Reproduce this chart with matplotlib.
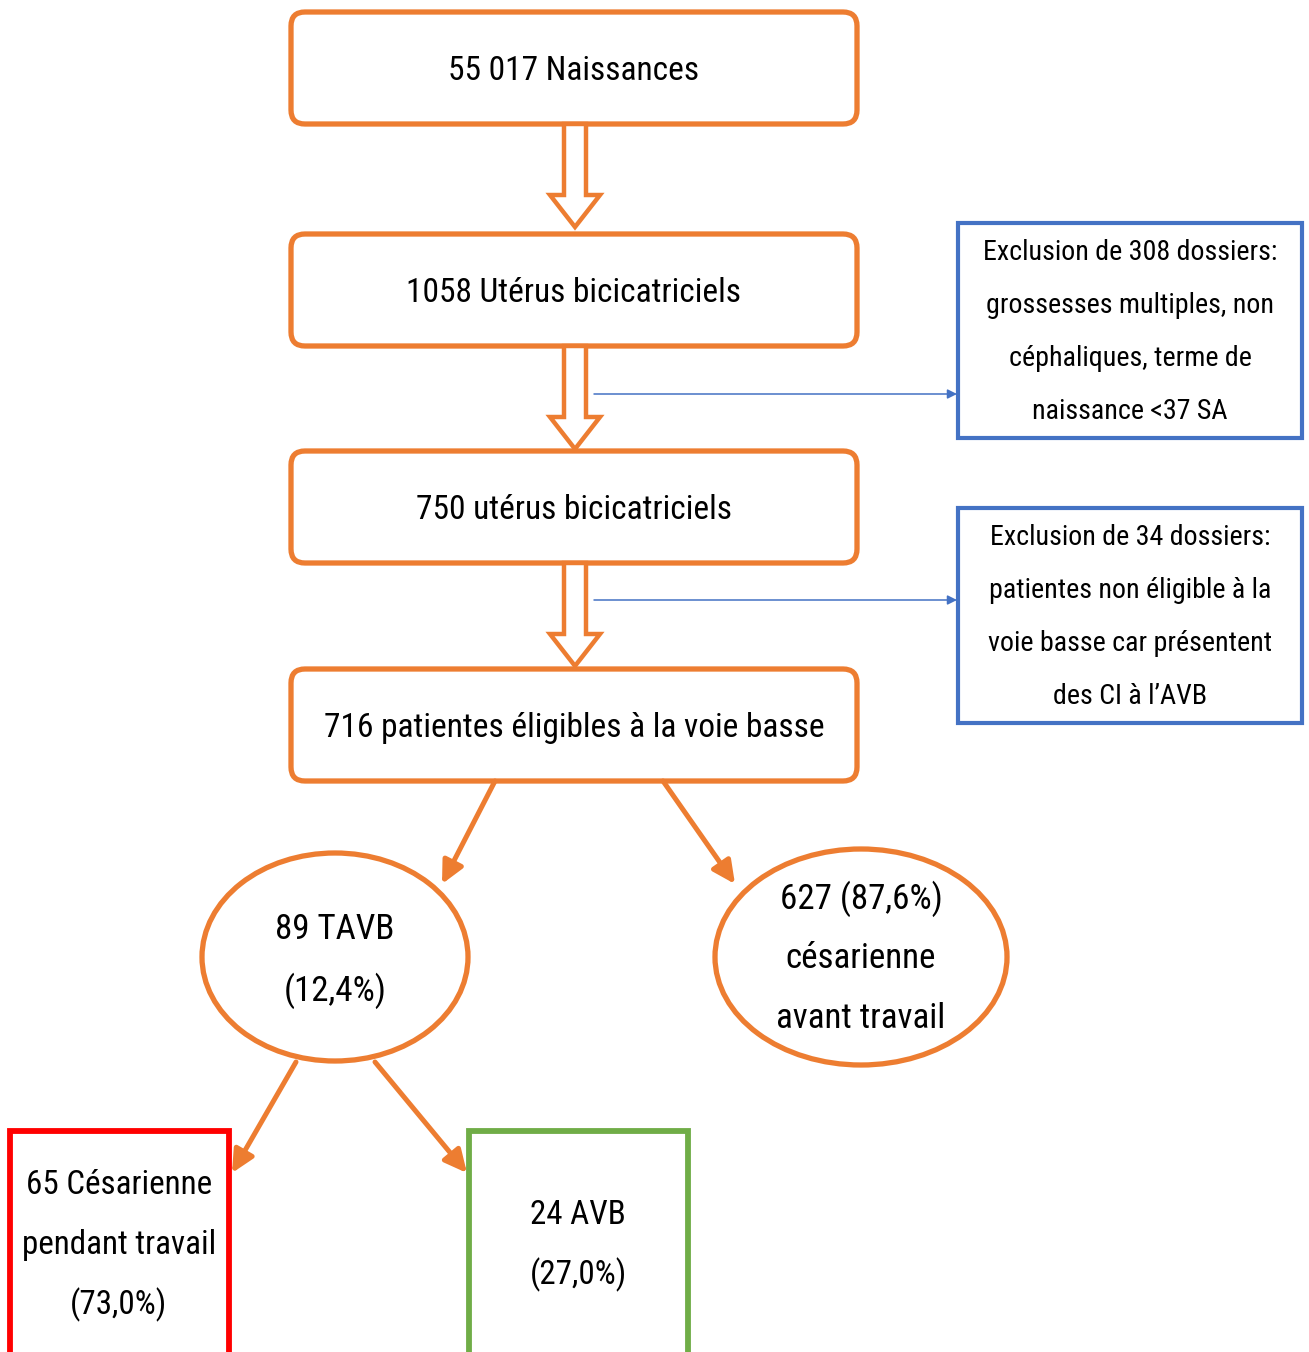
import matplotlib
matplotlib.use("Agg")
import matplotlib.pyplot as plt
from matplotlib import font_manager as fm
from matplotlib.patches import FancyBboxPatch, Rectangle, Ellipse, FancyArrow

ORANGE, BLUE, RED, GREEN = "#ED7D31", "#4472C4", "#FF0000", "#70AD47"

# flow content
main_labels = ["55 017 Naissances", "1058 Utérus bicicatriciels",
               "750 utérus bicicatriciels", "716 patientes éligibles à la voie basse"]
excl1 = ["Exclusion de 308 dossiers:", "grossesses multiples, non",
         "céphaliques, terme de", "naissance <37 SA"]
excl2 = ["Exclusion de 34 dossiers:", "patientes non éligible à la",
         "voie basse car présentent", "des CI à l\u2019AVB"]
tavb = ["89 TAVB", "(12,4%)"]
ces_avant = ["627 (87,6%)", "césarienne", "avant travail"]
ces_pendant = ["65 Césarienne", "pendant travail", "(73,0%)"]
avb = ["24 AVB", "(27,0%)"]

# pick the narrowest font that is around (reference uses a condensed face)
fonts = fm.fontManager.ttflist
names = {f.name for f in fonts}
FONT, STRETCH = ["Liberation Sans", "DejaVu Sans"], "normal"
for cand in ["Liberation Sans Narrow", "Roboto Condensed", "Open Sans Condensed", "Arial Narrow"]:
    if cand in names:
        FONT = [cand, "DejaVu Sans"]
        break
else:
    cond = [f for f in fonts if str(f.stretch) in ("condensed", "semi-condensed", "extra-condensed")
            or (isinstance(f.stretch, int) and f.stretch < 500)]
    if cond:
        FONT, STRETCH = [cond[0].name, "DejaVu Sans"], "condensed"

W, H = 1309, 1352
fig = plt.figure(figsize=(W / 100, H / 100), dpi=100)
ax = fig.add_axes([0, 0, 1, 1])
ax.set_xlim(0, W); ax.set_ylim(H, 0); ax.axis("off")
rend = fig.canvas.get_renderer()


def fit(s, px, grow=1.07):
    # size so that a reference line has about the same width (a bit larger: ref face is taller)
    t = ax.text(0, 0, s, fontsize=20, family=FONT, fontstretch=STRETCH)
    w = t.get_window_extent(rend).width
    t.remove()
    return 20 * px / w * grow


def lines(cx, cy, txt, gap, fs):
    y0 = cy - gap * (len(txt) - 1) / 2
    for i, t in enumerate(txt):
        ax.text(cx, y0 + i * gap, t, ha="center", va="center", fontsize=fs,
                family=FONT, fontstretch=STRETCH, color="black")


fs_main = fit(main_labels[0], 234)
fs_excl = fit(excl1[1], 288, 1.0)
fs_ell = fit(ces_avant[0], 152)
fs_bot = fit(ces_pendant[1], 193, 1.0)

# main rounded boxes
tops = [12, 234, 451, 669]
bh = 112
for top, lab in zip(tops, main_labels):
    ax.add_patch(FancyBboxPatch((291, top), 566, bh, boxstyle="round,pad=0,rounding_size=14",
                                fc="white", ec=ORANGE, lw=3.8))
    lines(574, top + bh / 2 + 3, [lab], 0, fs_main)

# hollow block arrows between boxes
for top in tops[:-1]:
    y0 = top + bh
    ax.add_patch(FancyArrow(575, y0, 0, 232 - 127 - 2, width=22, head_width=50,
                            head_length=32, length_includes_head=True,
                            fc="white", ec=ORANGE, lw=3.2, zorder=3))

# exclusion boxes + thin blue arrows
for (top, txt, ay) in [(223, excl1, 394), (508, excl2, 600)]:
    ax.add_patch(Rectangle((958, top), 344, 215, fc="white", ec=BLUE, lw=3.0))
    lines(1130, top + 109, txt, 53, fs_excl)
    ax.annotate("", xy=(957, ay), xytext=(594, ay),
                arrowprops=dict(arrowstyle="-|>", color=BLUE, lw=1.1, mutation_scale=14,
                                shrinkA=0, shrinkB=0))

arrow_kw = dict(arrowstyle="-|>,head_length=0.45,head_width=0.22", color=ORANGE, lw=3.6,
                mutation_scale=30, shrinkA=0, shrinkB=0)

# ellipses
ax.add_patch(Ellipse((335, 957), 266, 208, fc="white", ec=ORANGE, lw=3.8))
lines(335, 960, tavb, 61, fs_ell)
ax.add_patch(Ellipse((861, 957), 292, 216, fc="white", ec=ORANGE, lw=3.8))
lines(861, 959, ces_avant, 60, fs_ell)
ax.annotate("", xy=(442, 884), xytext=(495, 781), arrowprops=arrow_kw)
ax.annotate("", xy=(735, 884), xytext=(663, 781), arrowprops=arrow_kw)

# bottom boxes
ax.add_patch(Rectangle((10, 1131), 219, 230, fc="white", ec=RED, lw=4.2))
lines(119, 1245, ces_pendant, 60, fs_bot)
ax.add_patch(Rectangle((469, 1131), 219, 230, fc="white", ec=GREEN, lw=4.2))
lines(578, 1245, avb, 60, fs_bot)
ax.annotate("", xy=(232, 1173), xytext=(296, 1062), arrowprops=arrow_kw)
ax.annotate("", xy=(467, 1173), xytext=(375, 1062), arrowprops=arrow_kw)

fig.savefig("out.png", dpi=100)
